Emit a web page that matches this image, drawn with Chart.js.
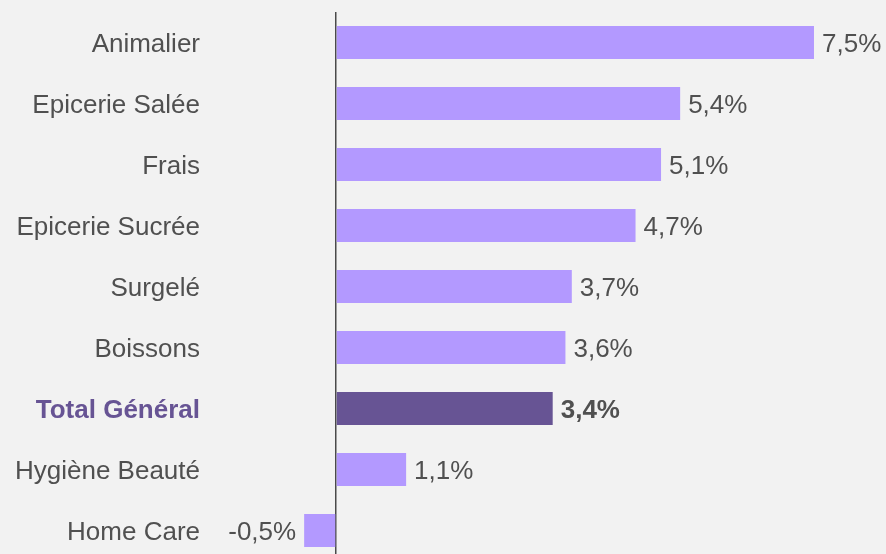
<!DOCTYPE html>
<html>
<head>
<meta charset="utf-8">
<script src="https://cdn.jsdelivr.net/npm/chart.js@4"></script>
<style>
  html, body { margin: 0; padding: 0; background: #f2f2f2; overflow: hidden; }
  #wrap { width: 886px; height: 561px; position: relative; }
</style>
</head>
<body>
<div id="wrap"><canvas id="myChart"></canvas></div>
<script>
// categories and values (growth, %)
const categories = ["Animalier", "Epicerie Salée", "Frais", "Epicerie Sucrée", "Surgelé",
                    "Boissons", "Total Général", "Hygiène Beauté", "Home Care"];
const growth = [7.5, 5.4, 5.1, 4.7, 3.7, 3.6, 3.4, 1.1, -0.5];
const totalLabel = "Total Général";

const light = "#b399ff";
const dark = "#675494";
const textGray = "#505050";
const fontFamily = "'Liberation Sans', Arial, sans-serif";

const fmt = v => v.toFixed(1).replace(".", ",") + "%";

// value labels next to each bar
const valueLabels = {
    id: "valueLabels",
    afterDatasetsDraw(chart) {
        const ctx = chart.ctx;
        const meta = chart.getDatasetMeta(0);
        ctx.save();
        ctx.textBaseline = "middle";
        meta.data.forEach((bar, i) => {
            const v = growth[i];
            const isTotal = categories[i] === totalLabel;
            ctx.font = (isTotal ? "bold " : "") + "26px " + fontFamily;
            ctx.fillStyle = textGray;
            if (v >= 0) {
                ctx.textAlign = "left";
                ctx.fillText(fmt(v), bar.x + 8, bar.y + 2);
            } else {
                ctx.textAlign = "right";
                ctx.fillText(fmt(v), bar.x - 8, bar.y + 2);
            }
        });
        ctx.restore();
    }
};

new Chart("myChart", {
    type: "bar",
    data: {
        labels: categories,
        datasets: [{
            data: growth,
            backgroundColor: categories.map(c => c === totalLabel ? dark : light),
            categoryPercentage: 1,
            barPercentage: 0.54
        }]
    },
    options: {
        indexAxis: "y",
        responsive: true,
        maintainAspectRatio: false,
        animation: false,
        layout: { padding: { top: 12, bottom: 0, left: 0, right: 0 } },
        plugins: {
            legend: { display: false },
            tooltip: { enabled: false }
        },
        scales: {
            x: {
                min: -1.946,
                max: 8.63,
                afterBuildTicks: s => { s.ticks = [{ value: 0 }]; },
                afterFit: s => { s.height = 0; s.paddingLeft = 0; s.paddingRight = 0; },
                ticks: { display: false },
                border: { display: false },
                grid: { color: "#4a4a4a", lineWidth: 1.5, drawTicks: false }
            },
            y: {
                afterFit: s => { s.width = 212; s.paddingTop = 0; s.paddingBottom = 0; },
                border: { display: false },
                grid: { display: false, drawTicks: false },
                ticks: {
                    padding: 12,
                    labelOffset: 2,
                    color: ctx => categories[ctx.index] === totalLabel ? dark : textGray,
                    font: ctx => ({
                        family: fontFamily,
                        size: 26,
                        weight: categories[ctx.index] === totalLabel ? "bold" : "normal"
                    })
                }
            }
        }
    },
    plugins: [valueLabels]
});
</script>
</body>
</html>
